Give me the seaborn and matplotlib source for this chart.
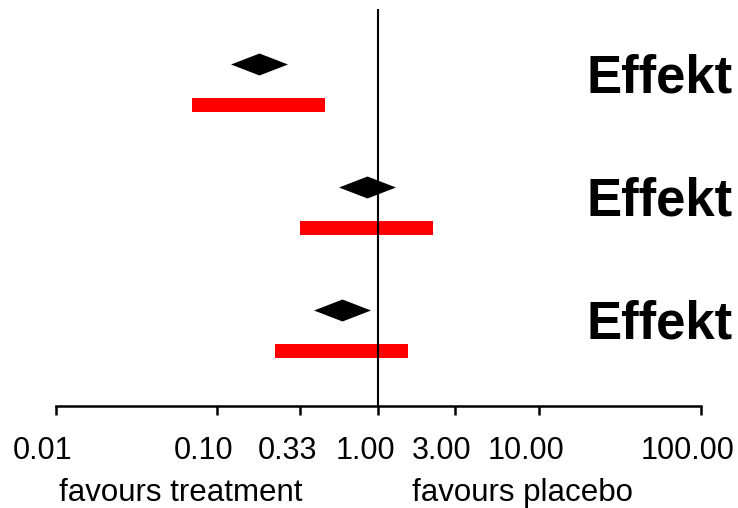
import numpy as np
import pandas as pd
import matplotlib
matplotlib.use("Agg")
import matplotlib.pyplot as plt
import matplotlib.transforms as mtransforms
from matplotlib.path import Path
from matplotlib.ticker import NullLocator
import seaborn as sns

# values
labels = ["Effekt", "Effekt", "Effekt"]
point_est = [0.183, 0.857, 0.602]
ci_low = [0.0705, 0.330, 0.231]
ci_high = [0.472, 2.20, 1.54]
tick_values = [0.01, 0.1, 0.33, 1, 3, 10, 100]
tick_labels = ["0.01", "0.10", "0.33", "1.00", "3.00", "10.00", "100.00"]
side_labels = ["favours treatment", "favours placebo"]

sns.set_style("white")
plt.rcParams["font.family"] = ["Liberation Sans", "DejaVu Sans"]
plt.rcParams["text.color"] = "black"

rows = np.arange(len(labels))
df = pd.DataFrame({"label": labels, "est": point_est, "lo": ci_low, "hi": ci_high,
                   "y_diam": rows - 0.167, "y_bar": rows + 0.167})

fig = plt.figure(figsize=(7.38, 5.08), dpi=100)
ax = fig.add_axes([55.5 / 738, 102 / 508, 645 / 738, 397 / 508])
ax.set_xscale("log")

# confidence bars
ax.barh(df["y_bar"], df["hi"] - df["lo"], left=df["lo"], height=0.108,
        color="#ff0000", linewidth=0)

# diamonds
diamond = Path([(-1, 0), (0, 0.386), (1, 0), (0, -0.386), (-1, 0)], closed=True)
sns.scatterplot(data=df, x="est", y="y_diam", marker=diamond, s=1681,
                color="black", edgecolor="black", linewidth=0, ax=ax, zorder=3)

ax.axvline(1, color="black", lw=1.5, zorder=2)

ax.set_xlim(0.01, 100)
ax.set_ylim(2.614, -0.614)
ax.set_xticks(tick_values, tick_labels)
ax.xaxis.set_minor_locator(NullLocator())
ax.set_yticks([])
ax.set_xlabel("")
ax.set_ylabel("")
for s in ["left", "top", "right"]:
    ax.spines[s].set_visible(False)
ax.spines["bottom"].set_linewidth(1.8)
ax.spines["bottom"].set_color("black")
ax.tick_params(axis="x", length=6.5, width=1.8, pad=15, labelsize=22,
               direction="out", bottom=True, colors="black")

shift = mtransforms.ScaledTranslation(-0.13, 0, fig.dpi_scale_trans)
for lbl in ax.get_xticklabels():
    lbl.set_transform(lbl.get_transform() + shift)

trans = mtransforms.blended_transform_factory(fig.transFigure, ax.transData)
for r, txt in zip(rows, labels):
    ax.text(733 / 738, r + 0.065, txt, transform=trans, ha="right",
            va="baseline", fontsize=38, fontweight="bold", color="black")

fig.text(181 / 738, 7 / 508, side_labels[0], ha="center", va="baseline",
         fontsize=22.5, color="black")
fig.text(522 / 738, 7 / 508, side_labels[1], ha="center", va="baseline",
         fontsize=22.5, color="black")

fig.savefig("out.png", dpi=100)
